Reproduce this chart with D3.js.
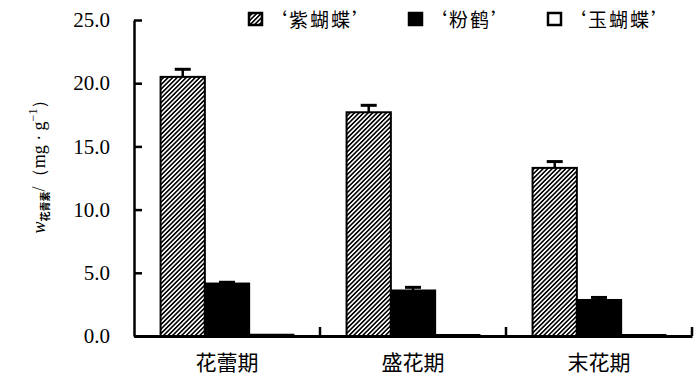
<!DOCTYPE html>
<html>
<head>
<meta charset="utf-8">
<script src="https://cdn.jsdelivr.net/npm/d3@7"></script>
<style>
  body { margin: 0; background: #fff; }
  svg { display: block; }
</style>
</head>
<body>
<div id="chart"></div>
<script>
// data
const stages = ["花蕾期", "盛花期", "末花期"];
const varieties = ["‘紫蝴蝶’", "‘粉鹤’", "‘玉蝴蝶’"];
const ziHudie = [20.5, 17.7, 13.3];
const ziHudieErr = [0.6, 0.55, 0.5];
const fenHe = [4.15, 3.6, 2.85];
const fenHeErr = [0.1, 0.25, 0.2];
const yuHudie = [0.1, 0.08, 0.08];
const yuHudieErr = [0, 0, 0];
const yTicks = [0, 5, 10, 15, 20, 25];

const W = 700, H = 385;
const margin = { top: 20, right: 8, bottom: 49, left: 134 };
const width = W - margin.left - margin.right,
  height = H - margin.top - margin.bottom;

const svg = d3
  .select("#chart")
  .append("svg")
  .attr("width", W)
  .attr("height", H);

// hatch for the first series
const defs = svg.append("defs");
defs
  .append("pattern")
  .attr("id", "hatch")
  .attr("patternUnits", "userSpaceOnUse")
  .attr("width", 3.2)
  .attr("height", 3.2)
  .attr("patternTransform", "rotate(45)")
  .append("line")
  .attr("x1", 0.8)
  .attr("y1", 0)
  .attr("x2", 0.8)
  .attr("y2", 3.2)
  .attr("stroke", "#000")
  .attr("stroke-width", 1.6);

const fills = ["url(#hatch)", "#000", "#fff"];

const g = svg
  .append("g")
  .attr("transform", `translate(${margin.left},${margin.top})`);

const x = d3.scaleBand().domain(stages).range([0, width]).padding(0);
const xSub = d3
  .scaleBand()
  .domain(varieties)
  .range([0, x.bandwidth()])
  .paddingInner(0)
  .paddingOuter(0.6);
const y = d3.scaleLinear().domain([0, 25]).range([height, 0]);

// rows for drawing
const series = [
  { key: varieties[0], vals: ziHudie, errs: ziHudieErr, fill: fills[0] },
  { key: varieties[1], vals: fenHe, errs: fenHeErr, fill: fills[1] },
  { key: varieties[2], vals: yuHudie, errs: yuHudieErr, fill: fills[2] },
];
const rows = [];
series.forEach((s) => {
  stages.forEach((st, i) => {
    rows.push({ stage: st, key: s.key, v: s.vals[i], e: s.errs[i], fill: s.fill });
  });
});

// bars
g.append("g")
  .selectAll("rect")
  .data(rows)
  .join("rect")
  .attr("x", (d) => x(d.stage) + xSub(d.key))
  .attr("y", (d) => y(d.v))
  .attr("width", xSub.bandwidth())
  .attr("height", (d) => y(0) - y(d.v))
  .attr("fill", (d) => d.fill)
  .attr("stroke", "#000")
  .attr("stroke-width", 2);

// error bars (only upper half shows)
const eb = g
  .append("g")
  .selectAll("g")
  .data(rows.filter((d) => d.e > 0))
  .join("g")
  .attr("transform", (d) => `translate(${x(d.stage) + xSub(d.key) + xSub.bandwidth() / 2},0)`);
eb.append("line")
  .attr("y1", (d) => y(d.v))
  .attr("y2", (d) => y(d.v + d.e))
  .attr("stroke", "#000")
  .attr("stroke-width", 2.5);
eb.append("line")
  .attr("x1", -8)
  .attr("x2", 8)
  .attr("y1", (d) => y(d.v + d.e))
  .attr("y2", (d) => y(d.v + d.e))
  .attr("stroke", "#000")
  .attr("stroke-width", 3);

// y axis, ticks pointing inward
const yAxis = g
  .append("g")
  .call(
    d3
      .axisLeft(y)
      .tickValues(yTicks)
      .tickFormat(d3.format(".1f"))
      .tickSizeInner(-8)
      .tickSizeOuter(0)
      .tickPadding(24)
  );
yAxis.select(".domain").attr("stroke-width", 2.5);
yAxis.selectAll(".tick line").attr("stroke-width", 2.5);
yAxis
  .selectAll("text")
  .attr("font-family", "'Liberation Serif', serif")
  .attr("font-size", 21)
  .attr("fill", "#000");

// x axis: labels only, separators drawn at band ends
const xAxis = g
  .append("g")
  .attr("transform", `translate(0,${height})`)
  .call(d3.axisBottom(x).tickSize(0).tickPadding(19));
xAxis.select(".domain").attr("stroke-width", 3);
xAxis
  .selectAll("text")
  .attr("font-family", "'Noto Sans CJK SC', sans-serif")
  .attr("font-size", 21)
  .attr("fill", "#000");
g.append("g")
  .selectAll("line")
  .data(stages)
  .join("line")
  .attr("x1", (d) => x(d) + x.bandwidth())
  .attr("x2", (d) => x(d) + x.bandwidth())
  .attr("y1", height)
  .attr("y2", height - 9)
  .attr("stroke", "#000")
  .attr("stroke-width", 2.5);

// legend
const legendX = [248, 408, 547];
const legend = svg
  .append("g")
  .selectAll("g")
  .data(series)
  .join("g")
  .attr("transform", (d, i) => `translate(${legendX[i]},12)`);
legend
  .append("rect")
  .attr("x", 1)
  .attr("y", 1)
  .attr("width", 13)
  .attr("height", 12)
  .attr("fill", (d) => d.fill)
  .attr("stroke", "#000")
  .attr("stroke-width", 2.5);
legend
  .append("text")
  .attr("x", 20)
  .attr("y", 14.5)
  .attr("font-family", "'Noto Sans CJK SC', sans-serif")
  .attr("font-size", 19)
  .attr("letter-spacing", 2)
  .text((d) => d.key);

// y label: w_花青素 /(mg · g^-1)
const yl = svg
  .append("text")
  .attr("transform", "translate(45,162) rotate(-90)")
  .attr("text-anchor", "middle")
  .attr("font-family", "'Liberation Serif', serif")
  .attr("font-size", 18);
yl.append("tspan").attr("font-style", "italic").text("w");
yl.append("tspan")
  .attr("font-family", "'Noto Sans CJK SC', sans-serif")
  .attr("font-size", 10)
  .attr("font-weight", "bold")
  .attr("dy", 4)
  .text("花青素");
yl.append("tspan").attr("dy", -4).text("/（mg · g");
yl.append("tspan").attr("font-size", 12).attr("dy", -8).text("−1");
yl.append("tspan").attr("dy", 8).text("）");
</script>
</body>
</html>
